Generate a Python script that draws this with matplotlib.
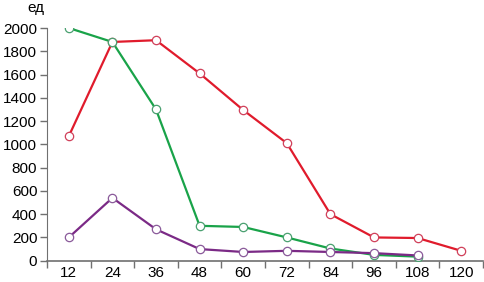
import numpy as np
import matplotlib.pyplot as plt

# категории (месяцы) и значения
months = ['12', '24', '36', '48', '60', '72', '84', '96', '108', '120']
red_vals = [1070, 1880, 1895, 1610, 1295, 1010, 400, 200, 195, 85]
green_vals = [2000, 1880, 1300, 300, 290, 200, 105, 50, 35]
purple_vals = [200, 540, 270, 100, 75, 85, 75, 65, 45]

plt.rcParams['font.family'] = ['Liberation Sans', 'DejaVu Sans']

fig = plt.figure(figsize=(4.84, 2.82), dpi=100)
ax = fig.add_axes([0.0971, 0.0755, 0.9009, 0.8252])

x = np.arange(len(months))


def draw(vals, color, edge):
    xs = x[:len(vals)]
    ax.plot(xs, vals, color=color, lw=1.6, zorder=2)
    ax.plot(xs, vals, 'o', ms=6, mfc='white', mec=edge, mew=0.9, zorder=3)


draw(red_vals, '#e01b2c', '#d0405a')
draw(green_vals, '#19a349', '#4aa070')
draw(purple_vals, '#7b2a86', '#8a5a9a')

ax.set_xlim(-0.5, len(months) - 0.5)
ax.set_ylim(0, 2000)

ax.set_xticks(x)
ax.set_xticklabels(months)
ax.set_xticks(np.arange(len(months) + 1) - 0.5, minor=True)
ax.tick_params(axis='x', which='major', length=0, pad=4, labelsize=11)
ax.tick_params(axis='x', which='minor', length=5, width=1, color='#707070', direction='out')

ax.set_yticks(np.arange(0, 2001, 200))
ax.tick_params(axis='y', length=5, width=1, color='#707070', pad=2, labelsize=11)

for s in ['top', 'right']:
    ax.spines[s].set_visible(False)
ax.spines['left'].set_color('#707070')
ax.spines['bottom'].set_color('#707070')
ax.spines['bottom'].set_linewidth(1.2)

fig.text(0.074, 0.972, 'ед', ha='center', va='center', fontsize=11)

fig.savefig('out.png', dpi=100)
